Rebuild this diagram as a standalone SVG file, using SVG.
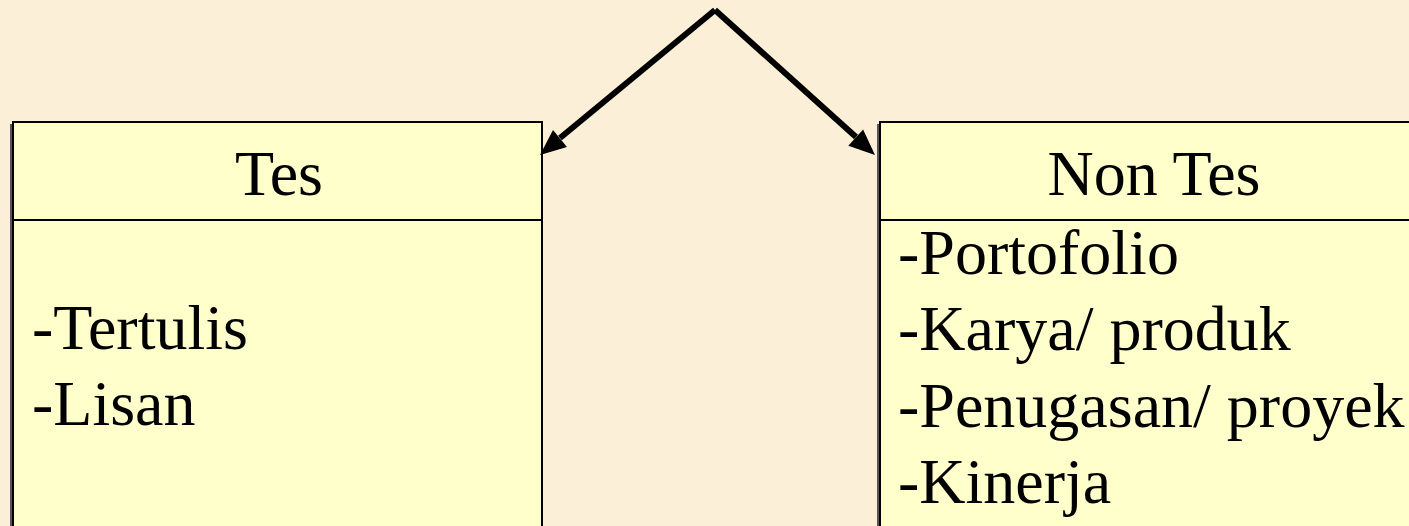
<svg xmlns="http://www.w3.org/2000/svg" width="1409" height="526" viewBox="0 0 1409 526">
<style>
.box{fill:#FFFFCC;stroke:#000;stroke-width:2}
.shadow{fill:none;stroke:#555;stroke-width:2}
.t{font-family:"Liberation Serif","Times New Roman",serif;font-size:64px;fill:#000}
.c{text-anchor:middle}
.line{stroke:#000;stroke-width:6;fill:none}
.head{fill:#000}
</style>
<rect width="1409" height="526" fill="#FBEFD8"/>
<g id="node-tes">
<line class="shadow" x1="11" y1="124" x2="11" y2="526"/>
<rect class="box" x="13" y="122" width="529" height="420"/>
<rect class="box" x="13" y="122" width="529" height="98"/>
<text class="t c" x="279" y="195">Tes</text>
<text class="t" x="32" y="349">-Tertulis</text>
<text class="t" x="32" y="425">-Lisan</text>
</g>
<g id="node-nontes">
<line class="shadow" x1="878" y1="124" x2="878" y2="526"/>
<rect class="box" x="880" y="122" width="560" height="420"/>
<rect class="box" x="880" y="122" width="560" height="98"/>
<text class="t c" x="1154" y="195">Non Tes</text>
<text class="t" x="898" y="274">-Portofolio</text>
<text class="t" x="898" y="350">-Karya/ produk</text>
<text class="t" x="898" y="427">-Penugasan/ proyek</text>
<text class="t" x="898" y="503">-Kinerja</text>
</g>
<g id="connectors">
<path class="line" d="M715,10 L560,138"/>
<polygon class="head" points="540,155 553,129.9 567,146.9"/>
<path class="line" d="M715,10 L856,137"/>
<polygon class="head" points="875,155 848.3,145.8 863.1,129.4"/>
</g>
</svg>
